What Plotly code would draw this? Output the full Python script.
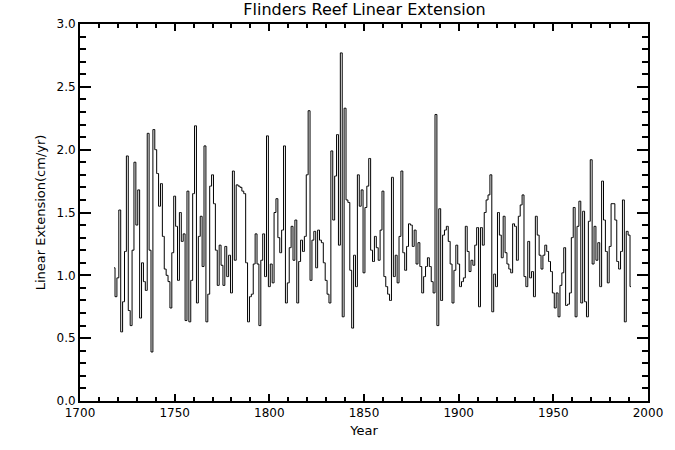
import plotly.graph_objects as go

start_year = 1718
extension = [
    1.06, 0.83, 0.98, 1.52, 0.55, 0.79, 1.19, 1.95, 0.72, 0.60,   # 1718-1727
    1.20, 1.90, 1.40, 1.68, 0.66, 1.10, 0.95, 0.88, 2.13, 1.20,   # 1728-1737
    0.39, 2.16, 2.00, 1.81, 1.55, 1.73, 1.31, 1.05, 1.00, 0.95,   # 1738-1747
    0.74, 1.18, 1.63, 1.39, 0.96, 1.50, 1.27, 1.33, 0.64, 1.67,   # 1748-1757
    0.63, 0.96, 1.65, 2.19, 0.78, 1.31, 1.47, 1.07, 2.03, 0.63,   # 1758-1767
    0.85, 1.71, 1.80, 1.57, 1.20, 0.92, 1.24, 1.08, 0.92, 1.23,   # 1768-1777
    0.99, 1.16, 0.86, 1.83, 1.12, 1.72, 1.71, 1.70, 1.67, 1.65,   # 1778-1787
    1.10, 0.63, 0.83, 0.85, 1.09, 1.33, 1.09, 0.60, 1.12, 1.33,   # 1788-1797
    0.99, 2.11, 0.91, 1.09, 0.94, 1.50, 1.61, 1.30, 1.18, 1.36,   # 1798-1807
    2.03, 0.78, 0.94, 1.22, 1.39, 1.12, 1.44, 0.78, 1.11, 1.28,   # 1808-1817
    1.19, 1.31, 1.80, 2.31, 0.96, 1.28, 1.35, 1.06, 1.36, 1.28,   # 1818-1827
    1.26, 1.10, 0.96, 0.85, 0.78, 1.99, 1.44, 1.79, 2.12, 1.24,   # 1828-1837
    2.77, 0.67, 2.33, 1.60, 1.58, 1.04, 0.58, 1.16, 0.91, 1.80,   # 1838-1847
    1.55, 1.68, 1.02, 1.54, 1.71, 1.93, 1.20, 1.11, 1.31, 1.22,   # 1848-1857
    1.12, 1.36, 1.67, 0.99, 0.91, 0.85, 0.80, 1.78, 0.99, 1.16,   # 1858-1867
    0.94, 1.31, 1.83, 1.18, 1.04, 1.23, 1.41, 1.40, 1.23, 1.36,   # 1868-1877
    1.09, 1.26, 1.07, 0.86, 0.99, 1.07, 1.14, 1.07, 0.95, 0.86,   # 1878-1887
    2.28, 0.60, 1.53, 0.80, 1.32, 1.36, 1.39, 1.27, 1.09, 0.78,   # 1888-1897
    1.04, 1.24, 1.09, 0.91, 0.95, 0.98, 1.39, 1.19, 1.03, 1.12,   # 1898-1907
    1.08, 1.24, 1.38, 0.75, 1.38, 1.24, 1.50, 1.60, 1.64, 1.80,   # 1908-1917
    0.71, 1.01, 0.91, 1.50, 1.32, 1.14, 1.47, 1.18, 1.09, 1.05,   # 1918-1927
    1.02, 1.41, 1.39, 1.12, 1.47, 1.56, 1.64, 0.99, 0.91, 1.27,   # 1928-1937
    0.98, 1.03, 0.83, 1.47, 1.32, 1.16, 1.05, 1.16, 1.24, 1.19,   # 1938-1947
    1.11, 1.03, 0.86, 0.74, 0.86, 0.67, 0.92, 1.02, 1.22, 0.76,   # 1948-1957
    0.77, 0.86, 1.30, 1.54, 0.67, 1.39, 1.59, 0.78, 1.51, 0.79,   # 1958-1967
    0.67, 1.43, 1.92, 1.09, 1.39, 1.12, 1.26, 0.91, 1.75, 1.44,   # 1968-1977
    1.19, 0.94, 1.23, 1.57, 1.57, 1.44, 1.11, 1.05, 1.19, 1.60,   # 1978-1987
    0.63, 1.35, 1.32, 0.91,                                       # 1988-1991
]
years = list(range(start_year, start_year + len(extension)))

x_ticks = [1700, 1750, 1800, 1850, 1900, 1950, 2000]
y_ticks = [0.0, 0.5, 1.0, 1.5, 2.0, 2.5, 3.0]

title_text = "Flinders Reef Linear Extension"
x_title = "Year"
y_title = "Linear Extension(cm/yr)"

font_family = "DejaVu Sans, Liberation Sans, sans-serif"

fig = go.Figure()
fig.add_trace(go.Scatter(
    x=years, y=extension, mode="lines",
    line=dict(color="black", width=1, shape="hvh"),
    showlegend=False, hoverinfo="x+y",
))

axis_common = dict(
    showgrid=False, zeroline=False,
    showline=True, linecolor="black", linewidth=2,
    mirror="allticks", ticks="inside", tickwidth=2,
    tickcolor="black",
    tickfont=dict(family=font_family, size=12, color="black"),
)

fig.update_layout(
    width=675, height=450,
    paper_bgcolor="white", plot_bgcolor="white",
    margin=dict(l=80, r=24, t=24, b=49),
    title=dict(text=title_text, x=0.54, xanchor="center", y=0.979, yanchor="middle",
               font=dict(family=font_family, size=16, color="black")),
    xaxis=dict(
        range=[1700, 2000], tickvals=x_ticks, ticktext=[str(v) for v in x_ticks],
        ticklen=7,
        minor=dict(dtick=10, ticks="inside", ticklen=4, tickwidth=2, tickcolor="black"),
        title=dict(text=x_title, standoff=6,
                   font=dict(family=font_family, size=13, color="black")),
        **axis_common,
    ),
    yaxis=dict(
        range=[0, 3], tickvals=y_ticks, ticktext=[f"{v:.1f}" for v in y_ticks],
        ticklen=11,
        minor=dict(dtick=0.1, ticks="inside", ticklen=6, tickwidth=2, tickcolor="black"),
        title=dict(text=y_title, standoff=8,
                   font=dict(family=font_family, size=13, color="black")),
        **axis_common,
    ),
)

# remove the browser's default 8px body margin so the figure fills the window
fig.write_html("out.html", config={"displayModeBar": False},
               post_script="document.body.style.margin='0';")
